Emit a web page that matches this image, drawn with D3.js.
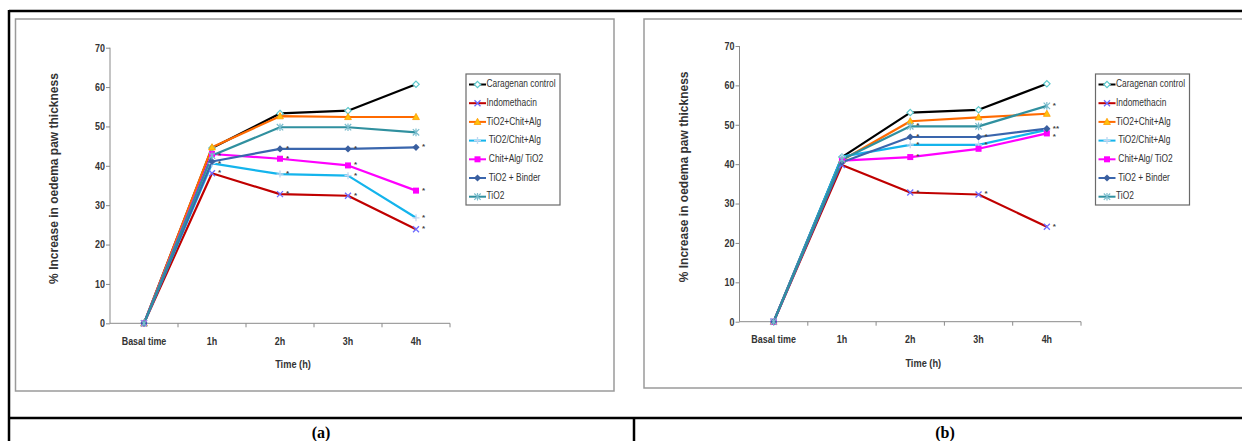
<!DOCTYPE html>
<html lang="en">
<head>
  <meta charset="UTF-8">
  <title>Increase in oedema paw thickness</title>
  <script src="https://d3js.org/d3.v7.min.js"></script>
  <style>
    body {
      margin: 0;
      background: #fff;
    }
    svg {
      display: block;
      background: #fff;
    }
    .narrow, .tick text {
      font-family: "Liberation Sans Narrow", "Arial Narrow", "Liberation Sans", Arial, sans-serif;
    }
    .tick text {
      font-weight: bold;
      font-size: 10.5px;
      fill: #333;
    }
    .axis path, .axis line {
      stroke: #8a8a8a;
    }
    .ylabel {
      font-family: "Liberation Sans", Arial, sans-serif;
      font-weight: bold;
      font-size: 12px;
      fill: #333;
    }
    .legend text {
      font-size: 10px;
      fill: #333;
    }
    .caption {
      font-family: "Liberation Serif", "Times New Roman", serif;
      font-weight: bold;
      font-size: 16px;
    }
  </style>
</head>
<body>
  <svg width="1242" height="441"></svg>

  <script>
    // Time points and series
    const times = ["Basal time", "1h", "2h", "3h", "4h"];
    const seriesNames = ["Caragenan control", "Indomethacin", "TiO2+Chit+Alg", " TiO2/Chit+Alg",
                         " Chit+Alg/ TiO2", " TiO2 + Binder", "TiO2"];

    // Panel (a) values
    const caragenanA = [0, 44.5, 53.3, 54.0, 60.7];
    const indomethacinA = [0, 38.1, 32.8, 32.4, 23.9];
    const tio2ChitAlgA = [0, 44.7, 52.6, 52.4, 52.4];
    const tio2SlashChitAlgA = [0, 40.6, 37.9, 37.5, 26.8];
    const chitAlgTio2A = [0, 43.0, 41.8, 40.1, 33.7];
    const tio2BinderA = [0, 41.1, 44.3, 44.3, 44.7];
    const tio2A = [0, 42.6, 49.8, 49.8, 48.5];

    // Panel (b) values
    const caragenanB = [0, 41.8, 53.1, 53.8, 60.4];
    const indomethacinB = [0, 39.8, 32.8, 32.3, 24.1];
    const tio2ChitAlgB = [0, 41.0, 50.9, 51.9, 52.8];
    const tio2SlashChitAlgB = [0, 41.9, 44.9, 44.9, 48.7];
    const chitAlgTio2B = [0, 40.9, 41.8, 43.9, 47.8];
    const tio2BinderB = [0, 40.5, 46.9, 46.9, 49.0];
    const tio2B = [0, 41.2, 49.6, 49.6, 54.8];

    // significance marks: [series index, time index, mark]
    const starsA = [[6, 1, "*"], [5, 1, "*"], [1, 1, "*"],
                    [5, 2, "*"], [4, 2, "*"], [3, 2, "*"], [1, 2, "*"],
                    [5, 3, "*"], [4, 3, "*"], [3, 3, "*"], [1, 3, "*"],
                    [5, 4, "*"], [4, 4, "*"], [3, 4, "*"], [1, 4, "*"]];
    const starsB = [[6, 2, "*"], [5, 2, "*"], [3, 2, "*"], [4, 2, "*"], [1, 2, "*"],
                    [5, 3, "*"], [3, 3, "*"], [1, 3, "*"],
                    [6, 4, "*"], [5, 4, "**"], [3, 4, "*"], [1, 4, "*"]];

    const yTicks = [0, 10, 20, 30, 40, 50, 60, 70];

    // styles per series
    const lineColors = ["#000000", "#c00000", "#ff6a00", "#14b4ec", "#ff00ff", "#3a66ad", "#30909f"];
    const markerTypes = ["openDiamond", "cross", "triangle", "plus", "square", "diamond", "star"];

    const svg = d3.select("svg");

    // table lines
    const frame = svg.append("g").attr("stroke", "#000").attr("stroke-width", 2.5);
    frame.append("line").attr("x1", 9).attr("x2", 1242).attr("y1", 11).attr("y2", 11);
    frame.append("line").attr("x1", 9).attr("x2", 9).attr("y1", 10).attr("y2", 441);
    frame.append("line").attr("x1", 9).attr("x2", 1242).attr("y1", 418).attr("y2", 418);
    frame.append("line").attr("x1", 634).attr("x2", 634).attr("y1", 418).attr("y2", 441);

    function drawMarker(g, type, x, y) {
      const m = g.append("g").attr("transform", `translate(${x},${y})`);
      if (type === "openDiamond") {
        m.append("path").attr("d", "M0,-3.2L3.2,0L0,3.2L-3.2,0Z")
          .attr("fill", "#fff").attr("stroke", "#5cc8cc").attr("stroke-width", 1.2);
      } else if (type === "cross") {
        m.append("path").attr("d", "M-3,-3L3,3M-3,3L3,-3")
          .attr("stroke", "#6e6cff").attr("stroke-width", 1.3);
      } else if (type === "triangle") {
        m.append("path").attr("d", "M0,-3.6L3.4,2.6L-3.4,2.6Z")
          .attr("fill", "#ffc20e").attr("stroke", "#ff9a00").attr("stroke-width", 0.8);
      } else if (type === "plus") {
        m.append("path").attr("d", "M-3.5,0L3.5,0M0,-3.5L0,3.5")
          .attr("stroke", "#c4d6f0").attr("stroke-width", 1.3);
      } else if (type === "square") {
        m.append("rect").attr("x", -3).attr("y", -3).attr("width", 6).attr("height", 6)
          .attr("fill", "#ff00ff");
      } else if (type === "diamond") {
        m.append("path").attr("d", "M0,-3.6L3.6,0L0,3.6L-3.6,0Z")
          .attr("fill", "#3a5f9f");
      } else if (type === "star") {
        m.append("path").attr("d", "M-3.2,-3.2L3.2,3.2M-3.2,3.2L3.2,-3.2M0,-3.8L0,3.8")
          .attr("stroke", "#79bccd").attr("stroke-width", 1.2);
      }
    }

    function drawPanel(p) {
      const g = svg.append("g");

      // chart area box
      g.append("rect")
        .attr("x", p.box[0]).attr("y", p.box[1])
        .attr("width", p.box[2]).attr("height", p.box[3])
        .attr("fill", "#fff").attr("stroke", "#9a9a9a").attr("stroke-width", 1.5);

      const x = d3.scaleBand().domain(times).range([p.left, p.right]);
      const y = d3.scaleLinear().domain([0, 70]).range([p.bottom, p.top]);
      const cx = t => x(t) + x.bandwidth() / 2;

      // y axis
      g.append("g")
        .attr("class", "axis")
        .attr("transform", `translate(${p.left},0)`)
        .call(d3.axisLeft(y).tickValues(yTicks).tickSize(4).tickPadding(2).tickSizeOuter(0))
        .call(a => a.select(".domain").attr("d", `M0,${p.top}V${p.bottom}`))
        .call(a => a.selectAll(".tick text").attr("transform", "scale(0.85,1)"));

      // x axis with labels at centres and ticks between categories
      const xa = g.append("g")
        .attr("class", "axis")
        .attr("transform", `translate(0,${p.bottom})`)
        .call(d3.axisBottom(x).tickSize(0).tickPadding(14));
      xa.select(".domain").attr("d", `M${p.left},0H${p.right}`);
      xa.selectAll(".tick text").attr("transform", "scale(0.85,1)");
      xa.selectAll(".boundary")
        .data(times.slice(1).concat(["end"]))
        .join("line")
        .attr("class", "boundary")
        .attr("x1", d => d === "end" ? p.right : x(d))
        .attr("x2", d => d === "end" ? p.right : x(d))
        .attr("y1", 0).attr("y2", 4);

      // axis titles
      g.append("text")
        .attr("class", "ylabel")
        .attr("transform", `translate(${p.left - 55},${(p.top + p.bottom) / 2 - 7}) rotate(-90)`)
        .attr("text-anchor", "middle")
        .attr("dominant-baseline", "middle")
        .text("% Increase in oedema paw thickness");

      g.append("text")
        .attr("class", "narrow")
        .attr("transform", `translate(${(p.left + p.right) / 2 + 13},${p.bottom + 45}) scale(0.88,1)`)
        .attr("text-anchor", "middle")
        .attr("font-weight", "bold")
        .attr("font-size", 10.5)
        .attr("fill", "#333")
        .text("Time (h)");

      // lines
      const line = d3.line()
        .x((d, i) => cx(times[i]))
        .y(d => y(d));

      p.values.forEach((vals, s) => {
        g.append("path")
          .datum(vals)
          .attr("fill", "none")
          .attr("stroke", lineColors[s])
          .attr("stroke-width", 2.2)
          .attr("stroke-linejoin", "round")
          .attr("d", line);
      });
      p.values.forEach((vals, s) => {
        vals.forEach((v, i) => drawMarker(g, markerTypes[s], cx(times[i]), y(v)));
      });

      // significance marks, nudged apart when they sit on top of each other
      const placed = p.stars.map(d => ({ t: d[1], mark: d[2], x: cx(times[d[1]]) + 6, y: y(p.values[d[0]][d[1]]) + 2 }))
        .sort((a, b) => a.t - b.t || a.y - b.y);
      placed.forEach((d, i) => {
        const prev = placed[i - 1];
        if (prev && prev.t === d.t && d.y - prev.y < 8) d.y = prev.y + 8;
      });
      g.append("g")
        .selectAll("text")
        .data(placed)
        .join("text")
        .attr("x", d => d.x)
        .attr("y", d => d.y)
        .attr("font-family", "Liberation Sans, Arial, sans-serif")
        .attr("font-size", 8)
        .attr("font-weight", "bold")
        .attr("fill", "#444")
        .text(d => d.mark);

      // legend
      const lx = p.left + 356, ly = 74;
      const lg = g.append("g").attr("class", "legend narrow");
      lg.append("rect")
        .attr("x", lx).attr("y", ly).attr("width", 94).attr("height", 131)
        .attr("fill", "#fff").attr("stroke", "#6a6a6a").attr("stroke-width", 1.2);
      seriesNames.forEach((name, s) => {
        const ry = ly + 10.5 + s * 18.7;
        lg.append("line")
          .attr("x1", lx + 3).attr("x2", lx + 20)
          .attr("y1", ry).attr("y2", ry)
          .attr("stroke", lineColors[s]).attr("stroke-width", 2);
        drawMarker(lg, markerTypes[s], lx + 11.5, ry);
        lg.append("text")
          .attr("transform", `translate(${lx + 20.5},${ry}) scale(0.84,1)`)
          .attr("dominant-baseline", "middle")
          .style("white-space", "pre")
          .text(name);
      });

      // caption
      svg.append("text")
        .attr("class", "caption")
        .attr("x", p.captionX)
        .attr("y", 438)
        .attr("text-anchor", "middle")
        .text(p.caption);
    }

    const panels = [
      {
        caption: "(a)", captionX: 321,
        left: 110, right: 450, top: 47.7, bottom: 323.3,
        box: [15.5, 19, 598.5, 372],
        values: [caragenanA, indomethacinA, tio2ChitAlgA, tio2SlashChitAlgA, chitAlgTio2A, tio2BinderA, tio2A],
        stars: starsA
      },
      {
        caption: "(b)", captionX: 945,
        left: 739.5, right: 1081, top: 46, bottom: 321.7,
        box: [644, 19, 610, 369],
        values: [caragenanB, indomethacinB, tio2ChitAlgB, tio2SlashChitAlgB, chitAlgTio2B, tio2BinderB, tio2B],
        stars: starsB
      }
    ];

    panels.forEach(drawPanel);
  </script>
</body>
</html>
